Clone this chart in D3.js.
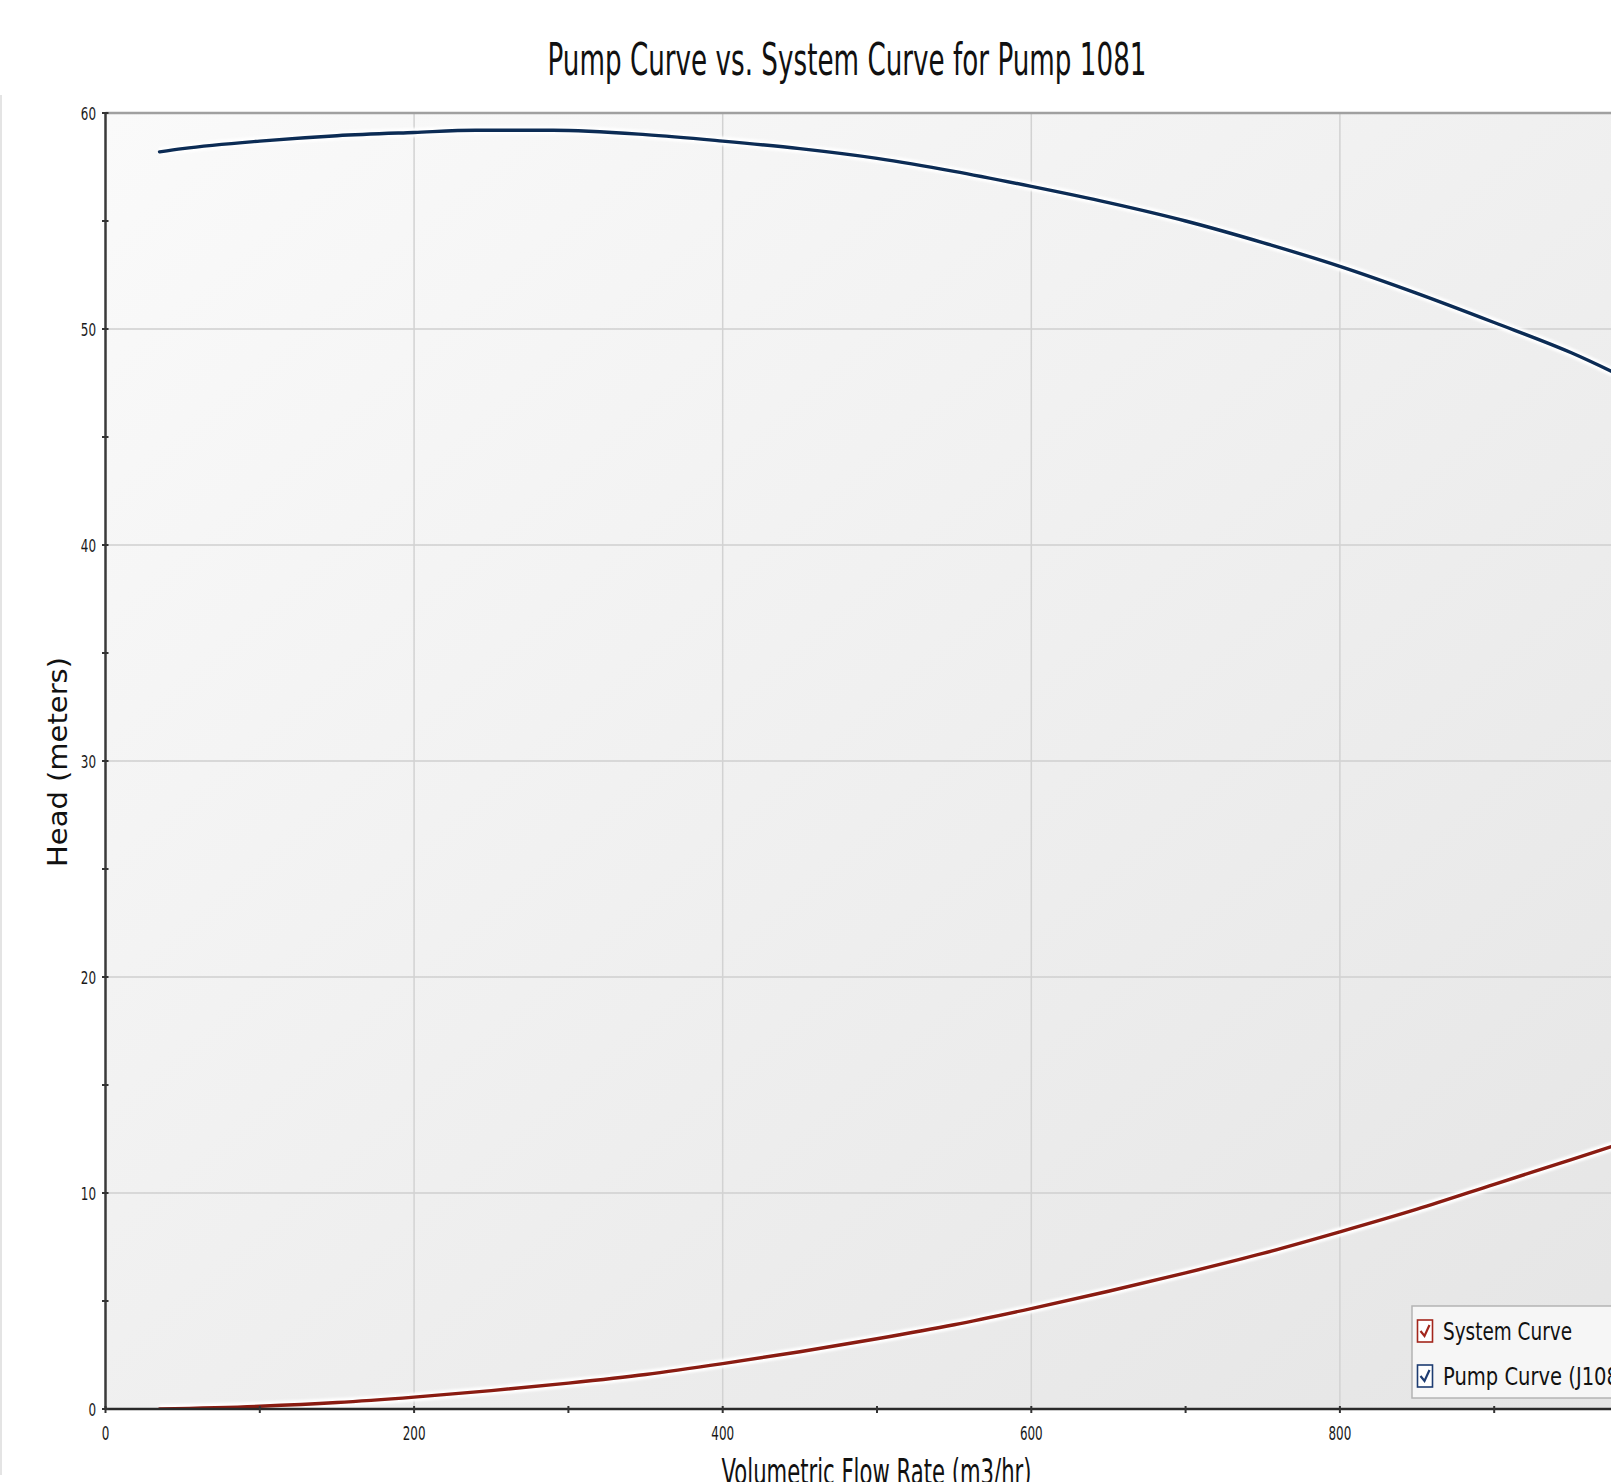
<!DOCTYPE html>
<html>
<head>
<meta charset="utf-8">
<script src="https://cdn.jsdelivr.net/npm/d3@7"></script>
<style>
  html, body { margin: 0; padding: 0; background: #ffffff; overflow: hidden; }
  svg { display: block; }
</style>
</head>
<body>
<svg id="chart" width="1611" height="1482"></svg>
<script>
// ---- data ----
const chartTitle = "Pump Curve vs. System Curve for Pump 1081";
const xAxisTitle = "Volumetric Flow Rate (m3/hr)";
const yAxisTitle = "Head (meters)";
const seriesNames = ["System Curve", "Pump Curve (J1081)"];

const pumpFlow = [35, 50, 100, 150, 200, 240, 290, 350, 400, 450, 500, 550, 600, 650, 700, 750, 800, 850, 900, 950, 1000];
const pumpHead = [58.2, 58.35, 58.7, 58.95, 59.1, 59.2, 59.2, 59.0, 58.7, 58.35, 57.9, 57.3, 56.6, 55.85, 55.0, 54.0, 52.9, 51.65, 50.3, 48.9, 47.2];

const sysFlow = [35, 100, 150, 200, 250, 300, 350, 400, 450, 500, 550, 600, 650, 700, 750, 800, 850, 900, 950, 1000];
const sysHead = [0.0, 0.13, 0.3, 0.55, 0.85, 1.2, 1.6, 2.1, 2.65, 3.25, 3.9, 4.65, 5.45, 6.3, 7.2, 8.2, 9.25, 10.4, 11.55, 12.7];

const yTicks = [0, 10, 20, 30, 40, 50, 60];
const yMinorTicks = [5, 15, 25, 35, 45, 55];
const xTicks = [0, 200, 400, 600, 800, 1000];
const xMinorTicks = [100, 300, 500, 700, 900];

// ---- layout ----
const W = 1611, H = 1482;
const plotLeft = 105.5, plotTop = 113, plotBottom = 1409;
const x = d3.scaleLinear().domain([0, 1000]).range([plotLeft, plotLeft + 1543]);
const y = d3.scaleLinear().domain([0, 60]).range([plotBottom, plotTop]);

const svg = d3.select("#chart");
const defs = svg.append("defs");

const grad = defs.append("linearGradient").attr("id", "bg")
  .attr("x1", "0%").attr("y1", "0%").attr("x2", "100%").attr("y2", "100%");
grad.append("stop").attr("offset", "0%").attr("stop-color", "#fafafa");
grad.append("stop").attr("offset", "100%").attr("stop-color", "#e5e5e5");

defs.append("clipPath").attr("id", "plotClip").append("rect")
  .attr("x", plotLeft).attr("y", plotTop - 10).attr("width", W - plotLeft).attr("height", plotBottom - plotTop + 10);

const blur = defs.append("filter").attr("id", "glow").attr("x", "-5%").attr("y", "-5%").attr("width", "110%").attr("height", "110%");
blur.append("feGaussianBlur").attr("stdDeviation", 1.2);

// faint page border line at left
svg.append("line").attr("x1", 1).attr("x2", 1).attr("y1", 95).attr("y2", 1475)
  .attr("stroke", "#e4e4e4").attr("stroke-width", 2);

// plot background
svg.append("rect").attr("x", plotLeft).attr("y", plotTop).attr("width", W - plotLeft).attr("height", plotBottom - plotTop)
  .attr("fill", "url(#bg)");

// gridlines
const grid = svg.append("g");
grid.selectAll("line.h").data(yTicks.filter(d => d > 0 && d < 60)).enter().append("line")
  .attr("x1", plotLeft).attr("x2", W).attr("y1", d => y(d)).attr("y2", d => y(d))
  .attr("stroke", "#cfcfcf").attr("stroke-width", 1.5);
grid.selectAll("line.v").data(xTicks.filter(d => d > 0)).enter().append("line")
  .attr("x1", d => x(d)).attr("x2", d => x(d)).attr("y1", plotTop).attr("y2", plotBottom)
  .attr("stroke", "#d2d2d2").attr("stroke-width", 1.5);

// top border
svg.append("line").attr("x1", plotLeft).attr("x2", W).attr("y1", plotTop).attr("y2", plotTop)
  .attr("stroke", "#a0a0a0").attr("stroke-width", 2.5);

// series
const lineGen = d3.line().x(d => x(d[0])).y(d => y(d[1])).curve(d3.curveMonotoneX);
const pumpData = pumpFlow.map((f, i) => [f, pumpHead[i]]);
const sysData = sysFlow.map((f, i) => [f, sysHead[i]]);
const plot = svg.append("g").attr("clip-path", "url(#plotClip)");

[[sysData, "#8a1c12"], [pumpData, "#0c2c55"]].forEach(([data, color]) => {
  plot.append("path").datum(data).attr("d", lineGen)
    .attr("fill", "none").attr("stroke", "#ffffff").attr("stroke-width", 9)
    .attr("stroke-opacity", 1).attr("filter", "url(#glow)");
  plot.append("path").datum(data).attr("d", lineGen)
    .attr("fill", "none").attr("stroke", color).attr("stroke-width", 3.4)
    .attr("stroke-linejoin", "round").attr("stroke-linecap", "round");
});

// axes lines
svg.append("line").attr("x1", plotLeft).attr("x2", plotLeft).attr("y1", plotTop).attr("y2", plotBottom)
  .attr("stroke", "#3a3a3a").attr("stroke-width", 2.5);
svg.append("line").attr("x1", plotLeft).attr("x2", W).attr("y1", plotBottom).attr("y2", plotBottom)
  .attr("stroke", "#2a2a2a").attr("stroke-width", 2.5);

// ticks
const tickG = svg.append("g").attr("stroke", "#333").attr("stroke-width", 2);
tickG.selectAll("line.yt").data(yTicks.concat(yMinorTicks)).enter().append("line")
  .attr("x1", plotLeft - 3.5).attr("x2", plotLeft + 3).attr("y1", d => y(d)).attr("y2", d => y(d));
tickG.selectAll("line.xt").data(xTicks.concat(xMinorTicks)).enter().append("line")
  .attr("x1", d => x(d)).attr("x2", d => x(d)).attr("y1", plotBottom - 3).attr("y2", plotBottom + 4);

// tick labels
const digitW = 7.6;
svg.append("g").selectAll("text").data(yTicks).enter().append("text")
  .attr("x", d => 96 - String(d).length * digitW)
  .attr("y", d => y(d) + 6.5)
  .attr("font-family", "DejaVu Sans, sans-serif").attr("font-size", 18).attr("fill", "#1a1a1a")
  .attr("textLength", d => String(d).length * digitW).attr("lengthAdjust", "spacingAndGlyphs")
  .text(d => d);

svg.append("g").selectAll("text").data(xTicks).enter().append("text")
  .attr("x", d => x(d) - String(d).length * digitW / 2)
  .attr("y", 1440)
  .attr("font-family", "DejaVu Sans, sans-serif").attr("font-size", 19).attr("fill", "#1a1a1a")
  .attr("textLength", d => String(d).length * digitW).attr("lengthAdjust", "spacingAndGlyphs")
  .text(d => d);

// title
svg.append("text").attr("x", 547.5).attr("y", 75)
  .attr("font-family", "DejaVu Sans, sans-serif").attr("font-size", 45).attr("fill", "#111")
  .attr("textLength", 599).attr("lengthAdjust", "spacingAndGlyphs")
  .text(chartTitle);

// y axis title
svg.append("text")
  .attr("transform", "translate(67,867) rotate(-90)")
  .attr("x", 0).attr("y", 0)
  .attr("font-family", "DejaVu Sans, sans-serif").attr("font-size", 26).attr("fill", "#111")
  .attr("textLength", 210).attr("lengthAdjust", "spacingAndGlyphs")
  .text(yAxisTitle);

// x axis title
svg.append("text").attr("x", 721.5).attr("y", 1484)
  .attr("font-family", "DejaVu Sans, sans-serif").attr("font-size", 35).attr("fill", "#111")
  .attr("textLength", 310).attr("lengthAdjust", "spacingAndGlyphs")
  .text(xAxisTitle);

// legend
const lg = svg.append("g");
lg.append("rect").attr("x", 1412).attr("y", 1306).attr("width", 260).attr("height", 92)
  .attr("fill", "#f6f6f6").attr("stroke", "#b4b4b4").attr("stroke-width", 1.5);
const legendColors = ["#a3261c", "#1d3c72"];
const rowTop = [1320, 1365];
seriesNames.forEach((name, i) => {
  const ty = rowTop[i];
  lg.append("rect").attr("x", 1417.5).attr("y", ty).attr("width", 15).attr("height", 22)
    .attr("fill", "#ffffff").attr("stroke", legendColors[i]).attr("stroke-width", 1.6);
  lg.append("path")
    .attr("d", `M${1420.5},${ty + 11} L${1424.5},${ty + 16} L${1429.5},${ty + 5}`)
    .attr("fill", "none").attr("stroke", legendColors[i]).attr("stroke-width", 2.2);
  lg.append("text").attr("x", 1443).attr("y", ty + 20)
    .attr("font-family", "DejaVu Sans, sans-serif").attr("font-size", 25).attr("fill", "#111")
    .attr("textLength", i === 0 ? 129 : 196).attr("lengthAdjust", "spacingAndGlyphs")
    .text(name);
});
</script>
</body>
</html>
